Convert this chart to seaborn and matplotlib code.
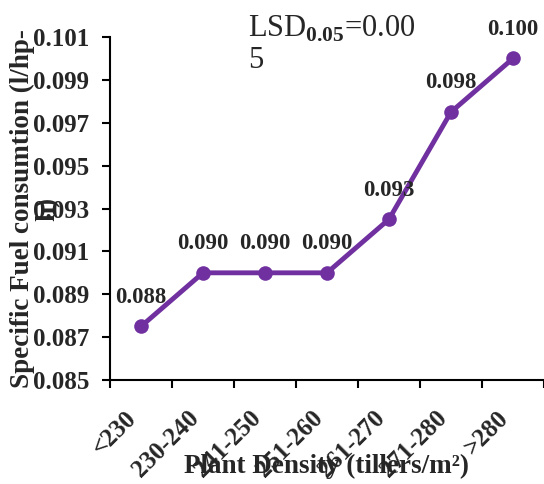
import numpy as np
import pandas as pd
import matplotlib
matplotlib.use("Agg")
import matplotlib.pyplot as plt
import seaborn as sns
from decimal import Decimal, ROUND_HALF_UP

# Plant density classes and measured specific fuel consumption
categories = ["<230", "230-240", "241-250", "251-260", "261-270", "271-280", ">280"]
fuel_use = [0.0875, 0.0900, 0.0900, 0.0900, 0.0925, 0.0975, 0.1000]
y_ticks = [0.085, 0.087, 0.089, 0.091, 0.093, 0.095, 0.097, 0.099, 0.101]

sns.set_style("ticks")
plt.rcParams["font.family"] = ["Liberation Serif", "DejaVu Serif"]
plt.rcParams["mathtext.fontset"] = "custom"
plt.rcParams["mathtext.rm"] = "Liberation Serif"
plt.rcParams["mathtext.bf"] = "Liberation Serif:bold"

df = pd.DataFrame({"pos": np.arange(len(categories)), "fuel": fuel_use})

fig = plt.figure(figsize=(5.44, 4.84), dpi=100)
ax = fig.add_axes([110 / 544, 1 - 380 / 484, 1 - 110 / 544, (380 - 37) / 484])

purple = "#7030A0"
sns.lineplot(data=df, x="pos", y="fuel", ax=ax, color=purple, linewidth=3.5,
             marker="o", markersize=10.5, markeredgewidth=0, sort=False)

ax.set_ylim(0.085, 0.101)
ax.set_yticks(y_ticks)
ax.set_yticklabels([f"{t:.3f}" for t in y_ticks], fontweight="bold", fontsize=18)

n = len(categories)
ax.set_xlim(-0.5, n - 0.5)
ax.set_xticks(np.arange(n + 1) - 0.5)
ax.set_xticklabels([])
ax.set_xticks(np.arange(n), minor=True)
ax.set_xticklabels(categories, minor=True, rotation=45, ha="right", va="top",
                   fontweight="bold", fontsize=18)
ax.tick_params(axis="x", which="minor", length=0, pad=19)
ax.tick_params(axis="both", which="major", length=6, width=1.5, color="black")
ax.tick_params(axis="y", pad=9)

for s in ("top", "right"):
    ax.spines[s].set_visible(False)
for s in ("left", "bottom"):
    ax.spines[s].set_linewidth(1.5)
    ax.spines[s].set_color("black")


def fmt(v):
    return str(Decimal(str(v)).quantize(Decimal("0.001"), rounding=ROUND_HALF_UP))


for x, v in zip(df["pos"], df["fuel"]):
    ax.annotate(fmt(v), (x, v), xytext=(0, 21), textcoords="offset points",
                ha="center", va="center", fontweight="bold", fontsize=16.5)

ax.set_xlabel("Plant Density (tillers/m²)", fontweight="bold", fontsize=19.5)
ax.xaxis.set_label_coords(0.5, -0.215)
ax.set_ylabel("Specific Fuel consumtion (l/hp-\nh)", fontweight="bold", fontsize=19.5,
              multialignment="center", linespacing=1.0)
ax.yaxis.set_label_coords(-0.115, 0.5)

fig.text(248 / 544, 1 - 14 / 484, "LSD$_{\\mathbf{0.05}}$=0.00\n5", ha="left", va="top",
         fontsize=22, linespacing=1.1)

fig.savefig("out.png", dpi=100)
